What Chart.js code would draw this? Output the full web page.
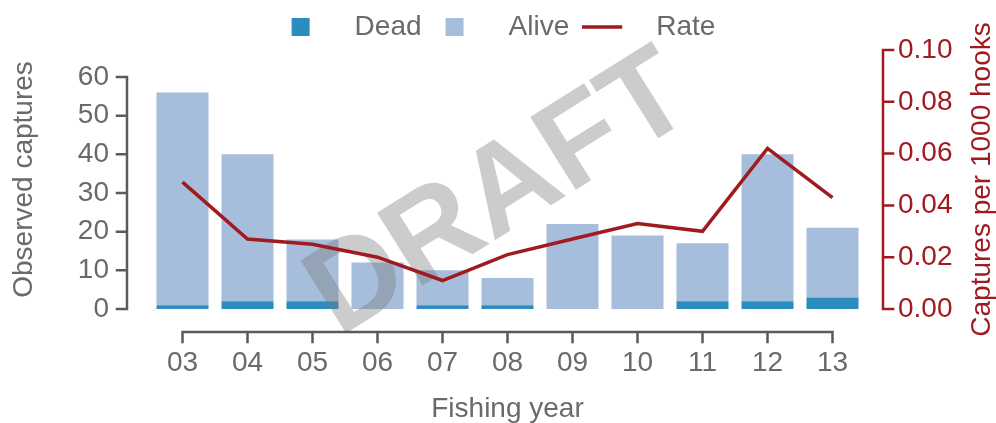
<!DOCTYPE html>
<html><head><meta charset="utf-8">
<script src="https://cdn.jsdelivr.net/npm/chart.js@4"></script>
<style>html,body{margin:0;padding:0;background:#fff;overflow:hidden}#wrap{width:996px;height:423px}</style>
</head><body>
<div id="wrap"><canvas id="c" width="996" height="423"></canvas></div>
<script>
// ---- data ----
const categories = ['03','04','05','06','07','08','09','10','11','12','13'];
const deadCaptures = [1, 2, 2, 0, 1, 1, 0, 0, 2, 2, 3];
const aliveCaptures = [55, 38, 16, 12, 9, 7, 22, 19, 15, 38, 18];
const captureRate = [0.049, 0.027, 0.025, 0.020, 0.011, 0.021, 0.027, 0.033, 0.030, 0.062, 0.043];
const leftTicks = [0, 10, 20, 30, 40, 50, 60];
const rightTicks = [0, 0.02, 0.04, 0.06, 0.08, 0.10];
const seriesNames = ['Dead', 'Alive', 'Rate'];
const axisTitles = {x: 'Fishing year', left: 'Observed captures', right: 'Captures per 1000 hooks'};
const watermarkText = 'DRAFT';

// ---- style ----
const FONT = "'Liberation Sans', Arial, Helvetica, sans-serif";
const FS = 28;
const GREY = '#6a6a6a';
const AXIS_GREY = '#5a5a5a';
const RED = '#a01b20';
const DEAD_C = '#2b8cbe';
const ALIVE_C = '#a6bddb';

function marker(kind, color) {
  const c = document.createElement('canvas');
  c.width = 60; c.height = 28;
  const g = c.getContext('2d');
  if (kind === 'box') { g.fillStyle = color; g.fillRect(11, 5, 18, 18); }
  else { g.strokeStyle = color; g.lineWidth = 3.5; g.beginPath(); g.moveTo(0, 14); g.lineTo(40, 14); g.stroke(); }
  return c;
}
const markers = [marker('box', DEAD_C), marker('box', ALIVE_C), marker('line', RED)];

const legendPlacePlugin = {
  id: 'legendPlace',
  beforeLayout(chart) {
    const lg = chart.legend;
    if (!lg || lg.__patched) return;
    lg.__patched = true;
    const fit = lg.fit;
    lg.fit = function () { fit.apply(this, arguments); this.height = 50; };
  }
};

const decoPlugin = {
  id: 'deco',
  beforeDatasetDraw(chart, args) {
    if (args.index !== 2) return;
    const ctx = chart.ctx, a = chart.chartArea;
    ctx.save();
    ctx.translate(a.left + (a.right - a.left) * 0.49, a.top + (a.bottom - a.top) * 0.565);
    ctx.rotate(-32 * Math.PI / 180);
    ctx.font = "bold 125px " + FONT;
    ctx.fillStyle = 'rgba(120,120,120,0.38)';
    ctx.textAlign = 'center';
    ctx.textBaseline = 'middle';
    ctx.fillText(watermarkText, 0, 0);
    ctx.restore();
  },
  afterDraw(chart) {
    const ctx = chart.ctx, a = chart.chartArea;
    const x = chart.scales.x, y = chart.scales.y, y1 = chart.scales.y1;
    ctx.save();
    ctx.lineWidth = 2.5;
    ctx.lineCap = 'square';
    // left axis
    const lx = a.left - 23;
    ctx.strokeStyle = AXIS_GREY;
    ctx.beginPath();
    ctx.moveTo(lx, y.getPixelForValue(leftTicks[0]));
    ctx.lineTo(lx, y.getPixelForValue(leftTicks[leftTicks.length - 1]));
    leftTicks.forEach(v => { const p = y.getPixelForValue(v); ctx.moveTo(lx, p); ctx.lineTo(lx - 10, p); });
    ctx.stroke();
    // bottom axis
    const by = a.bottom + 23;
    ctx.beginPath();
    ctx.moveTo(x.getPixelForValue(0), by);
    ctx.lineTo(x.getPixelForValue(categories.length - 1), by);
    categories.forEach((c, i) => { const p = x.getPixelForValue(i); ctx.moveTo(p, by); ctx.lineTo(p, by + 10); });
    ctx.stroke();
    // right axis
    const rx = a.right + 18;
    ctx.strokeStyle = RED;
    ctx.beginPath();
    ctx.moveTo(rx, y1.getPixelForValue(rightTicks[0]));
    ctx.lineTo(rx, y1.getPixelForValue(rightTicks[rightTicks.length - 1]));
    rightTicks.forEach(v => { const p = y1.getPixelForValue(v); ctx.moveTo(rx, p); ctx.lineTo(rx + 10, p); });
    ctx.stroke();
    // right axis title (reads bottom to top)
    ctx.translate(a.right + 117, (a.top + a.bottom) / 2);
    ctx.rotate(-Math.PI / 2);
    ctx.font = FS + "px " + FONT;
    ctx.fillStyle = RED;
    ctx.textAlign = 'center';
    ctx.textBaseline = 'middle';
    ctx.fillText(axisTitles.right, 0, 0);
    ctx.restore();
  }
};

new Chart(document.getElementById('c'), {
  data: {
    labels: categories,
    datasets: [
      {type: 'bar', label: seriesNames[0], data: deadCaptures, backgroundColor: DEAD_C, yAxisID: 'y', order: 1,
       barPercentage: 0.8, categoryPercentage: 1.0, borderWidth: 0},
      {type: 'bar', label: seriesNames[1], data: aliveCaptures, backgroundColor: ALIVE_C, yAxisID: 'y', order: 1,
       barPercentage: 0.8, categoryPercentage: 1.0, borderWidth: 0},
      {type: 'line', label: seriesNames[2], data: captureRate, borderColor: RED, backgroundColor: RED, yAxisID: 'y1', order: 0,
       borderWidth: 3.5, pointRadius: 0, tension: 0, fill: false}
    ]
  },
  options: {
    responsive: false,
    devicePixelRatio: 1,
    animation: false,
    layout: {padding: 0},
    plugins: {
      tooltip: {enabled: false},
      legend: {
        position: 'top',
        labels: {
          usePointStyle: true,
          pointStyleWidth: 60,
          boxHeight: 28,
          padding: 13,
          color: GREY,
          font: {family: FONT, size: FS},
          generateLabels: (chart) => chart.data.datasets.map((ds, i) => ({
            text: ds.label, pointStyle: markers[i], fillStyle: ds.backgroundColor,
            strokeStyle: ds.backgroundColor, lineWidth: 0, hidden: false, datasetIndex: i, fontColor: GREY
          }))
        }
      }
    },
    scales: {
      x: {
        type: 'category', stacked: true, offset: true,
        grid: {display: false, drawTicks: false}, border: {display: false},
        ticks: {color: GREY, font: {family: FONT, size: FS}, padding: 37, maxRotation: 0, autoSkip: false},
        title: {display: true, text: axisTitles.x, color: GREY, font: {family: FONT, size: FS, lineHeight: 1}, padding: {top: 0, bottom: 0}},
        afterFit: s => { s.height = 114; }
      },
      y: {
        type: 'linear', position: 'left', stacked: true, min: 0, max: 67,
        grid: {display: false, drawTicks: false}, border: {display: false},
        ticks: {color: GREY, font: {family: FONT, size: FS}, padding: 41},
        afterBuildTicks: s => { s.ticks = leftTicks.map(v => ({value: v})); },
        title: {display: true, text: axisTitles.left, color: GREY, font: {family: FONT, size: FS}, padding: {top: 7, bottom: 0}},
        afterFit: s => { s.width = 150; s.paddingTop = 0; s.paddingBottom = 0; }
      },
      y1: {
        type: 'linear', position: 'right', min: 0, max: 0.1,
        grid: {display: false, drawTicks: false}, border: {display: false},
        ticks: {color: RED, font: {family: FONT, size: FS}, padding: 33, callback: v => Number(v).toFixed(2)},
        afterBuildTicks: s => { s.ticks = rightTicks.map(v => ({value: v})); },
        afterFit: s => { s.width = 131; s.paddingTop = 0; s.paddingBottom = 0; }
      }
    }
  },
  plugins: [legendPlacePlugin, decoPlugin]
});
</script>
</body></html>
